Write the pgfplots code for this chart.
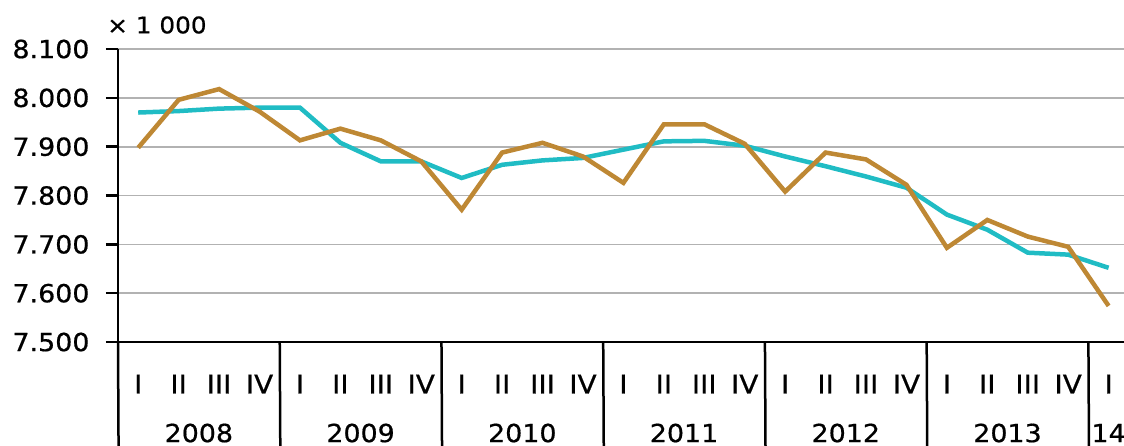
\documentclass[border=0pt]{standalone}
\usepackage{fontspec}
\setmainfont{DejaVu Sans}[FakeStretch=1.08, FakeBold=0.6]
\usepackage{pgfplots}
\pgfplotsset{compat=1.18}
\definecolor{teal1}{RGB}{32,188,196}
\definecolor{brown1}{RGB}{190,136,52}

\pgfplotstableread{
x trend actual
0 7970 7898
1 7973 7996
2 7978 8018
3 7980 7972
4 7980 7913
5 7908 7937
6 7870 7913
7 7870 7870
8 7836 7771
9 7863 7888
10 7872 7908
11 7877 7880
12 7894 7826
13 7911 7946
14 7912 7946
15 7902 7906
16 7880 7808
17 7860 7888
18 7839 7874
19 7816 7822
20 7761 7693
21 7730 7750
22 7683 7716
23 7679 7695
24 7652 7574
}\datatable

\begin{document}
\begin{tikzpicture}
\path[use as bounding box] (0,0) rectangle (1124bp,446bp);
\begin{axis}[
  at={(118bp,104bp)}, anchor=south west,
  scale only axis, width=1006bp, height=293bp,
  xmin=-0.5, xmax=24.38, ymin=7500, ymax=8100,
  ytick={7500,7600,...,8100},
  ymajorgrids, grid style={color=black!30, line width=1.6bp},
  axis x line*=bottom, axis y line*=left,
  axis line style={black, line width=2.5bp, -},
  xtick={0,...,24},
  xticklabels={I,II,III,IV,I,II,III,IV,I,II,III,IV,I,II,III,IV,I,II,III,IV,I,II,III,IV,I},
  xtick style={draw=none},
  ytick style={black, line width=2.5bp},
  tick align=outside, major tick length=12bp,
  yticklabel style={font=\fontsize{25}{30}\selectfont, xshift=-13bp, /pgf/number format/1000 sep={.}, /pgf/number format/assume math mode=true},
  xticklabel style={font=\fontsize{26}{30}\selectfont, anchor=center, yshift=-30bp},
  clip=false,
]
\addplot[teal1, line width=4.5bp] table[x=x, y=trend] {\datatable};
\addplot[brown1, line width=4.5bp] table[x=x, y=actual] {\datatable};
\pgfplotsinvokeforeach{-0.5,3.5,7.5,11.5,15.5,19.5,23.5}{
  \draw[black, line width=2.5bp] (axis cs:#1,7500) -- ++(0,-120bp);
}
\foreach \yr/\xx in {2008/1.5,2009/5.5,2010/9.5,2011/13.5,2012/17.5,2013/21.5,14/24}{
  \edef\tmp{\noexpand\node[font=\noexpand\fontsize{25}{30}\noexpand\selectfont, inner sep=0pt] at (axis cs:\xx,7500) [yshift=-91bp] {\yr};}
  \tmp
}
\end{axis}
\node[anchor=west, font=\fontsize{23}{27}\selectfont, inner sep=0pt] at (107bp,421bp) {× 1 000};
\end{tikzpicture}
\end{document}
